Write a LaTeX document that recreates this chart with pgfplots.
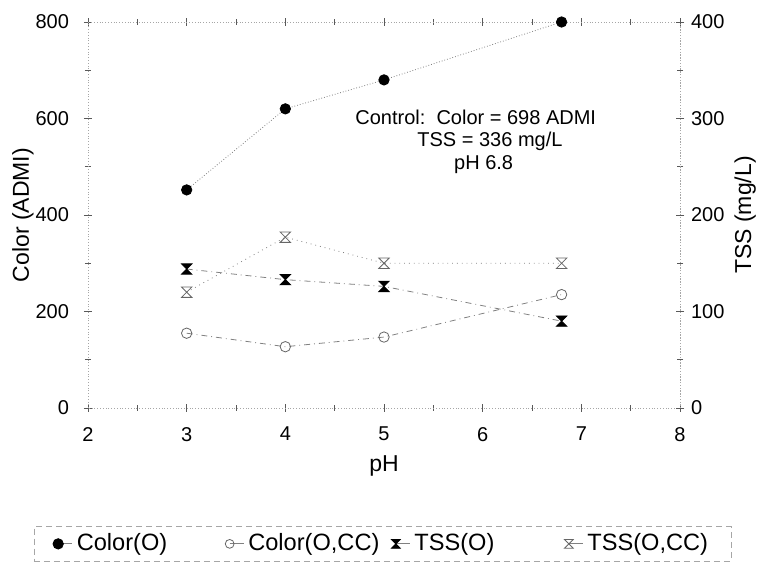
\documentclass[border=0pt]{standalone}
\usepackage{fontspec}
\setmainfont{Liberation Sans}
\usepackage{pgfplots}
\pgfplotsset{compat=1.18}
\pgfdeclareplotmark{hgfill}{%
  \pgfpathmoveto{\pgfqpoint{-\pgfplotmarksize}{\pgfplotmarksize}}%
  \pgfpathlineto{\pgfqpoint{\pgfplotmarksize}{\pgfplotmarksize}}%
  \pgfpathlineto{\pgfqpoint{-\pgfplotmarksize}{-\pgfplotmarksize}}%
  \pgfpathlineto{\pgfqpoint{\pgfplotmarksize}{-\pgfplotmarksize}}%
  \pgfpathclose\pgfusepathqfillstroke}
\pgfdeclareplotmark{hgopen}{%
  \pgfpathmoveto{\pgfqpoint{-\pgfplotmarksize}{\pgfplotmarksize}}%
  \pgfpathlineto{\pgfqpoint{\pgfplotmarksize}{\pgfplotmarksize}}%
  \pgfpathlineto{\pgfqpoint{-\pgfplotmarksize}{-\pgfplotmarksize}}%
  \pgfpathlineto{\pgfqpoint{\pgfplotmarksize}{-\pgfplotmarksize}}%
  \pgfpathclose\pgfusepathqstroke}
\begin{document}
\begin{tikzpicture}
\useasboundingbox (-44pt,-78.5pt) rectangle (335.5pt,204pt);
\pgfplotsset{every axis/.append style={
  scale only axis, width=296pt, height=193pt,
  xmin=2, xmax=8, xtick={2,3,4,5,6,7,8}, minor x tick num=1,
  tick align=center, major tick length=4pt, minor tick length=3pt,
  every tick/.style={gray!70!black, thin},
  /pgf/number format/assume math mode=true,
  tick label style={font=\fontsize{10}{12}\selectfont},
  label style={font=\fontsize{11.5}{13}\selectfont},
  axis line style={gray!70, densely dotted, thin},
}}
\begin{axis}[
  at={(0,0)}, anchor=south west,
  ymin=0, ymax=800, ytick={0,200,400,600,800}, minor y tick num=1,
  xticklabel style={yshift=-4pt},
  yticklabel style={xshift=-4pt},
  xlabel={pH}, ylabel={Color (ADMI)},
  xlabel style={at={(axis description cs:0.5,-0.150)}, anchor=center},
  ylabel style={at={(axis description cs:-0.11,0.5)}, anchor=center},
  legend style={at={(0.4975,-0.352)}, anchor=center, legend columns=4,
    draw=gray!70, densely dashed, thin, font=\fontsize{11.8}{13}\selectfont,
    /tikz/column 2/.style={column sep=27pt},
    /tikz/column 4/.style={column sep=4pt},
    /tikz/column 6/.style={column sep=33pt},
    inner xsep=9.5pt, inner ysep=1.5pt},
  legend image code/.code={%
    \draw[#1, solid, mark repeat=2, mark phase=1] plot coordinates {(0cm,0cm) (0.25cm,0cm)};},
  legend cell align=left,
]
\addplot[gray, densely dotted, thin, mark=*, mark size=2.6pt,
  mark options={solid, fill=black, draw=black}]
  coordinates {(3,452) (4,620) (5,680) (6.8,800)};
\addlegendentry{Color(O)}
\addlegendimage{gray, dashdotted, thin, mark=o, mark size=2.2pt, mark options={solid, draw=gray!80!black}}
\addlegendentry{Color(O,CC)}
\addlegendimage{gray, dashdotted, thin, mark=hgfill, mark size=2.2pt, mark options={solid, fill=black, draw=black}}
\addlegendentry{TSS(O)}
\addlegendimage{gray, dotted, thin, mark=hgopen, mark size=2.2pt, mark options={solid, draw=gray!80!black}}
\addlegendentry{TSS(O,CC)}
\addplot[gray, dashdotted, thin, mark=o, mark size=2.6pt,
  mark options={solid, draw=gray!80!black}]
  coordinates {(3,155) (4,127) (5,147) (6.8,235)};
\node[anchor=west, font=\fontsize{10}{12}\selectfont, inner sep=0pt] at (axis cs:4.706,603) {Control:\ \ Color = 698 ADMI};
\node[font=\fontsize{10}{12}\selectfont, inner sep=0pt] at (axis cs:6.074,553) {TSS = 336 mg/L};
\node[font=\fontsize{10}{12}\selectfont, inner sep=0pt] at (axis cs:6.01,504) {pH 6.8};
\end{axis}
\begin{axis}[
  at={(0,0)}, anchor=south west,
  axis x line=none, axis y line*=right,
  ymin=0, ymax=400, ytick={0,100,200,300,400}, minor y tick num=1,
  ylabel={TSS (mg/L)},
  ylabel style={at={(axis description cs:1.11,0.5)}, anchor=center},
]
\addplot[gray, dashdotted, thin, mark=hgfill, mark size=2.6pt,
  mark options={solid, fill=black, draw=black}]
  coordinates {(3,144) (4,133) (5,126) (6.8,90)};
\addplot[gray, dotted, thin, mark=hgopen, mark size=2.6pt,
  mark options={solid, draw=gray!80!black}]
  coordinates {(3,120) (4,177) (5,150) (6.8,150)};
\end{axis}
\end{tikzpicture}
\end{document}
